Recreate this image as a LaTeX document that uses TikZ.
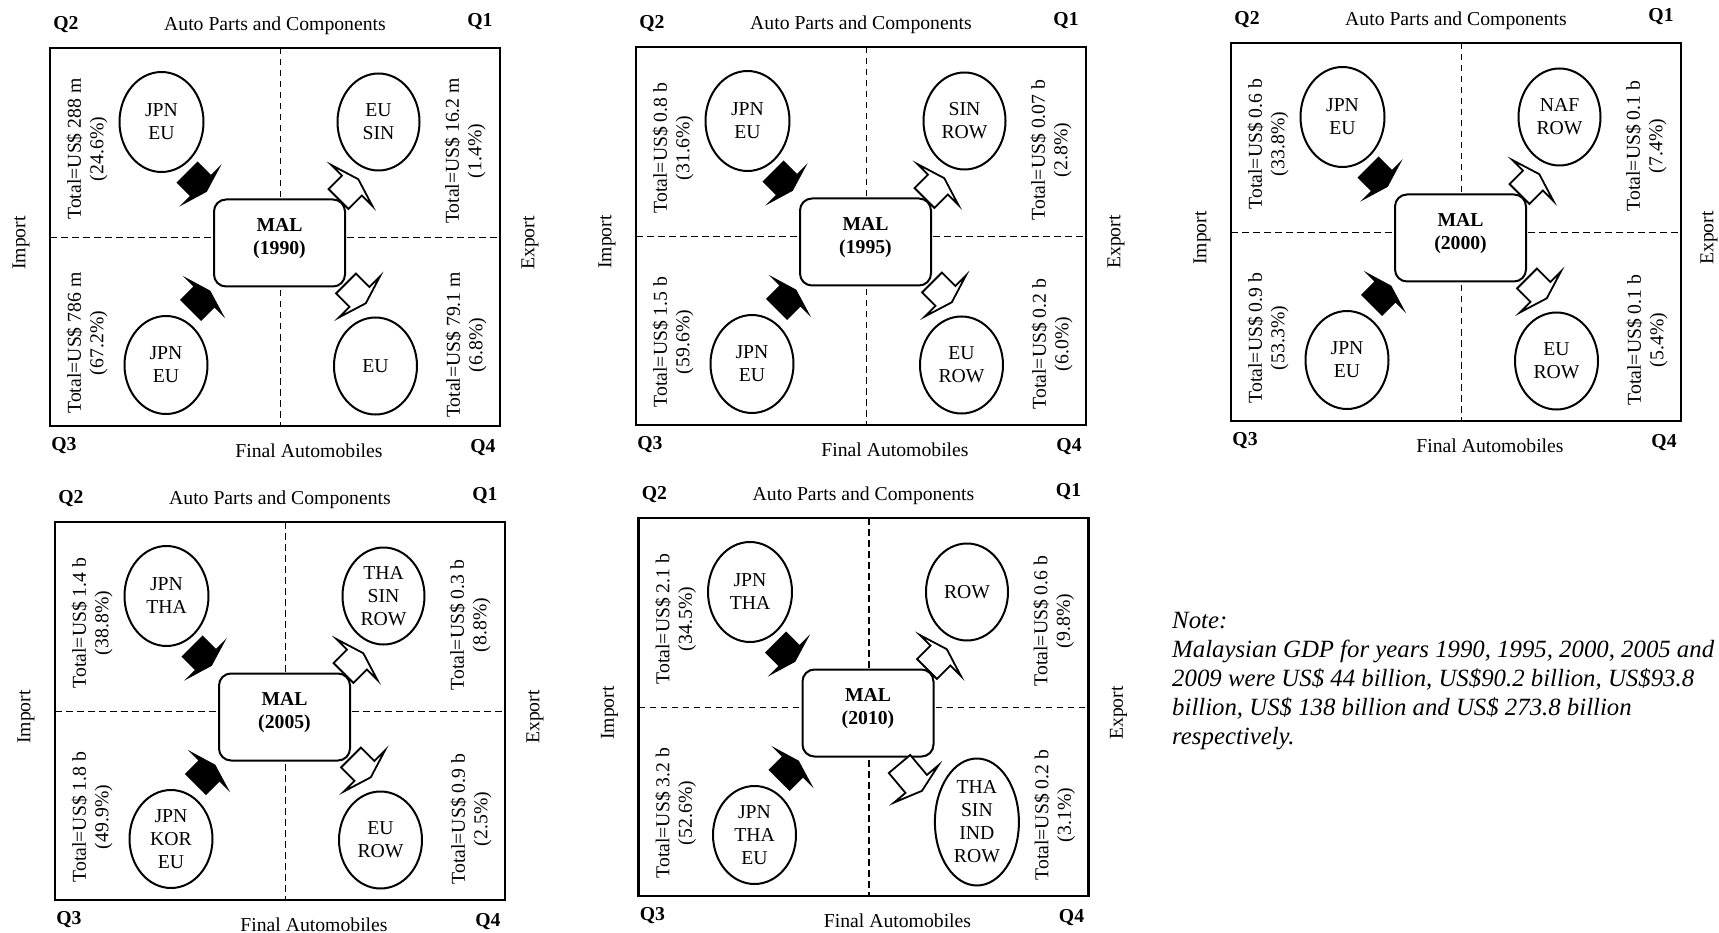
\documentclass[tikz,border=0pt]{standalone}
\usepackage{fontspec}
\setmainfont{Liberation Serif}
\usetikzlibrary{shapes.geometric}
\tikzset{
  frame/.style={line width=2.3pt},
  divider/.style={line width=1.6pt, dash pattern=on 6.5pt off 4.5pt},
  malbox/.style={draw, line width=2pt, rounded corners=12pt, fill=white, minimum width=131pt, minimum height=87pt, inner sep=0pt},
  maltext/.style={align=center, inner sep=0pt, font=\fontsize{19.7}{22.5}\selectfont\bfseries},
  region/.style={draw, ellipse, line width=2pt, inner sep=0pt, align=center, font=\fontsize{19.7}{23}\selectfont},
  tot/.style={rotate=90, align=center, inner sep=0pt, font=\fontsize{19.7}{22.5}\selectfont},
  qlab/.style={inner sep=0pt, font=\fontsize{19.7}{22}\selectfont\bfseries},
  axislab/.style={inner sep=0pt, font=\fontsize{19.7}{22}\selectfont},
  sidelab/.style={rotate=90, inner sep=0pt, font=\fontsize{19.7}{22}\selectfont},
  notetext/.style={align=left, inner sep=0pt, font=\fontsize{24.8}{29}\selectfont\itshape},
  pics/importarrow/.style={code={\fill[black] (0,-15) -- (19,-15) -- (19,-30) -- (28,0) -- (19,30) -- (19,15) -- (0,15) -- cycle;}},
  pics/exportarrow/.style={code={\filldraw[fill=white, draw=black, line width=1.8pt, line join=miter] (0,-14) -- (#1,-14) -- (#1,-29) -- ({#1+9},0) -- (#1,29) -- (#1,14) -- (0,14) -- cycle;}},
}
% #1 year, #2 Q2 ellipse, #3 Q2 total, #4 Q1 ellipse, #5 Q1 total, #6 Q3 ellipse, #7 Q3 total, #8 Q4 total
\newcommand\quadpanel[8]{%
  \draw[frame] (0,0) rectangle (450,378);
  \draw[divider] (230.5,0) -- (230.5,378);
  \draw[divider] (0,189.5) -- (450,189.5);
  \node[malbox] (mal#1) at (229.5,195) {};
  \node[maltext] (maltext#1) at (229.5,190.5) {MAL\\(#1)};
  \node[region, minimum width=84pt, minimum height=100pt] (src#1) at (111.5,74) {#2};
  \node[tot] (srctot#1) at (37,101) {#3};
  \node[region, minimum width=82pt, minimum height=97pt] (dst#1) at (328.5,74) {#4};
  \node[tot] (dsttot#1) at (415,103) {#5};
  \node[region, minimum width=83pt, minimum height=98pt] (fsrc#1) at (116,317) {#6};
  \node[tot] (fsrctot#1) at (37,295) {#7};
  \node[tot] (fdsttot#1) at (416,297) {#8};
  \node[qlab] (qtwo#1) at (16,-23) {Q2};
  \node[qlab] (qone#1) at (430,-26) {Q1};
  \node[qlab] (qthree#1) at (14,398) {Q3};
  \node[qlab] (qfour#1) at (433,400) {Q4};
  \node[axislab] (top#1) at (225,-22) {Auto Parts and Components};
  \node[axislab] (bot#1) at (259,403) {Final Automobiles};
  \node[sidelab] (imp#1) at (-29,195) {Import};
  \pic[rotate=-45] at (137,124) {importarrow};
  \pic[rotate=45] at (140.5,262.5) {importarrow};
  \pic[rotate=45] at (288.5,151) {exportarrow=19};
}
\begin{document}
\begin{tikzpicture}[x=1pt,y=-1pt]
\fill[white] (0,0) rectangle (1719,933);
\useasboundingbox (0,0) rectangle (1719,933);

\begin{scope}[shift={(50,48)}]
\quadpanel{1990}{JPN\\EU}{Total=US\$ 288 m\\(24.6\%)}{EU\\SIN}{Total=US\$ 16.2 m\\(1.4\%)}{JPN\\EU}{Total=US\$ 786 m\\(67.2\%)}{Total=US\$ 79.1 m\\(6.8\%)}
\node[region, minimum width=83pt, minimum height=97pt] (fdst1990) at (325.5,318) {EU};
\pic[rotate=-45] at (296,235.5) {exportarrow=19};
\node[sidelab] (exp1990) at (480,195) {Export};
\end{scope}

\begin{scope}[shift={(636,47)}]
\quadpanel{1995}{JPN\\EU}{Total=US\$ 0.8 b\\(31.6\%)}{SIN\\ROW}{Total=US\$ 0.07 b\\(2.8\%)}{JPN\\EU}{Total=US\$ 1.5 b\\(59.6\%)}{Total=US\$ 0.2 b\\(6.0\%)}
\node[region, minimum width=83pt, minimum height=97pt] (fdst1995) at (325.5,318) {EU\\ROW};
\pic[rotate=-45] at (296,235.5) {exportarrow=19};
\node[sidelab] (exp1995) at (480,195) {Export};
\end{scope}

\begin{scope}[shift={(1231,43)}]
\quadpanel{2000}{JPN\\EU}{Total=US\$ 0.6 b\\(33.8\%)}{NAF\\ROW}{Total=US\$ 0.1 b\\(7.4\%)}{JPN\\EU}{Total=US\$ 0.9 b\\(53.3\%)}{Total=US\$ 0.1 b\\(5.4\%)}
\node[region, minimum width=83pt, minimum height=97pt] (fdst2000) at (325.5,318) {EU\\ROW};
\pic[rotate=-45] at (296,235.5) {exportarrow=19};
\node[sidelab] (exp2000) at (478,195) {Export};
\end{scope}

\begin{scope}[shift={(55,522)}]
\quadpanel{2005}{JPN\\THA}{Total=US\$ 1.4 b\\(38.8\%)}{THA\\SIN\\ROW}{Total=US\$ 0.3 b\\(8.8\%)}{JPN\\KOR\\EU}{Total=US\$ 1.8 b\\(49.9\%)}{Total=US\$ 0.9 b\\(2.5\%)}
\node[region, minimum width=83pt, minimum height=97pt] (fdst2005) at (325.5,318) {EU\\ROW};
\pic[rotate=-45] at (296,235.5) {exportarrow=19};
\node[sidelab] (exp2005) at (480,195) {Export};
\end{scope}

\begin{scope}[shift={(638.5,518)}]
\quadpanel{2010}{JPN\\THA}{Total=US\$ 2.1 b\\(34.5\%)}{ROW}{Total=US\$ 0.6 b\\(9.8\%)}{JPN\\THA\\EU}{Total=US\$ 3.2 b\\(52.6\%)}{Total=US\$ 0.2 b\\(3.1\%)}
\node[region, minimum width=84pt, minimum height=127pt] (fdst2010) at (338.4,304) {THA\\SIN\\IND\\ROW};
\pic[rotate=-50] at (261,246) {exportarrow=26};
\node[sidelab] (exp2010) at (480,195) {Export};
\end{scope}

\node[notetext, anchor=north west] (note) at (1172,612) {Note:\\\hbox to 542pt{Malaysian GDP for years 1990, 1995, 2000, 2005 and}\\2009 were US\$ 44 billion, US\$90.2 billion, US\$93.8\\billion, US\$ 138 billion and US\$ 273.8 billion\\respectively.};
\end{tikzpicture}
\end{document}
